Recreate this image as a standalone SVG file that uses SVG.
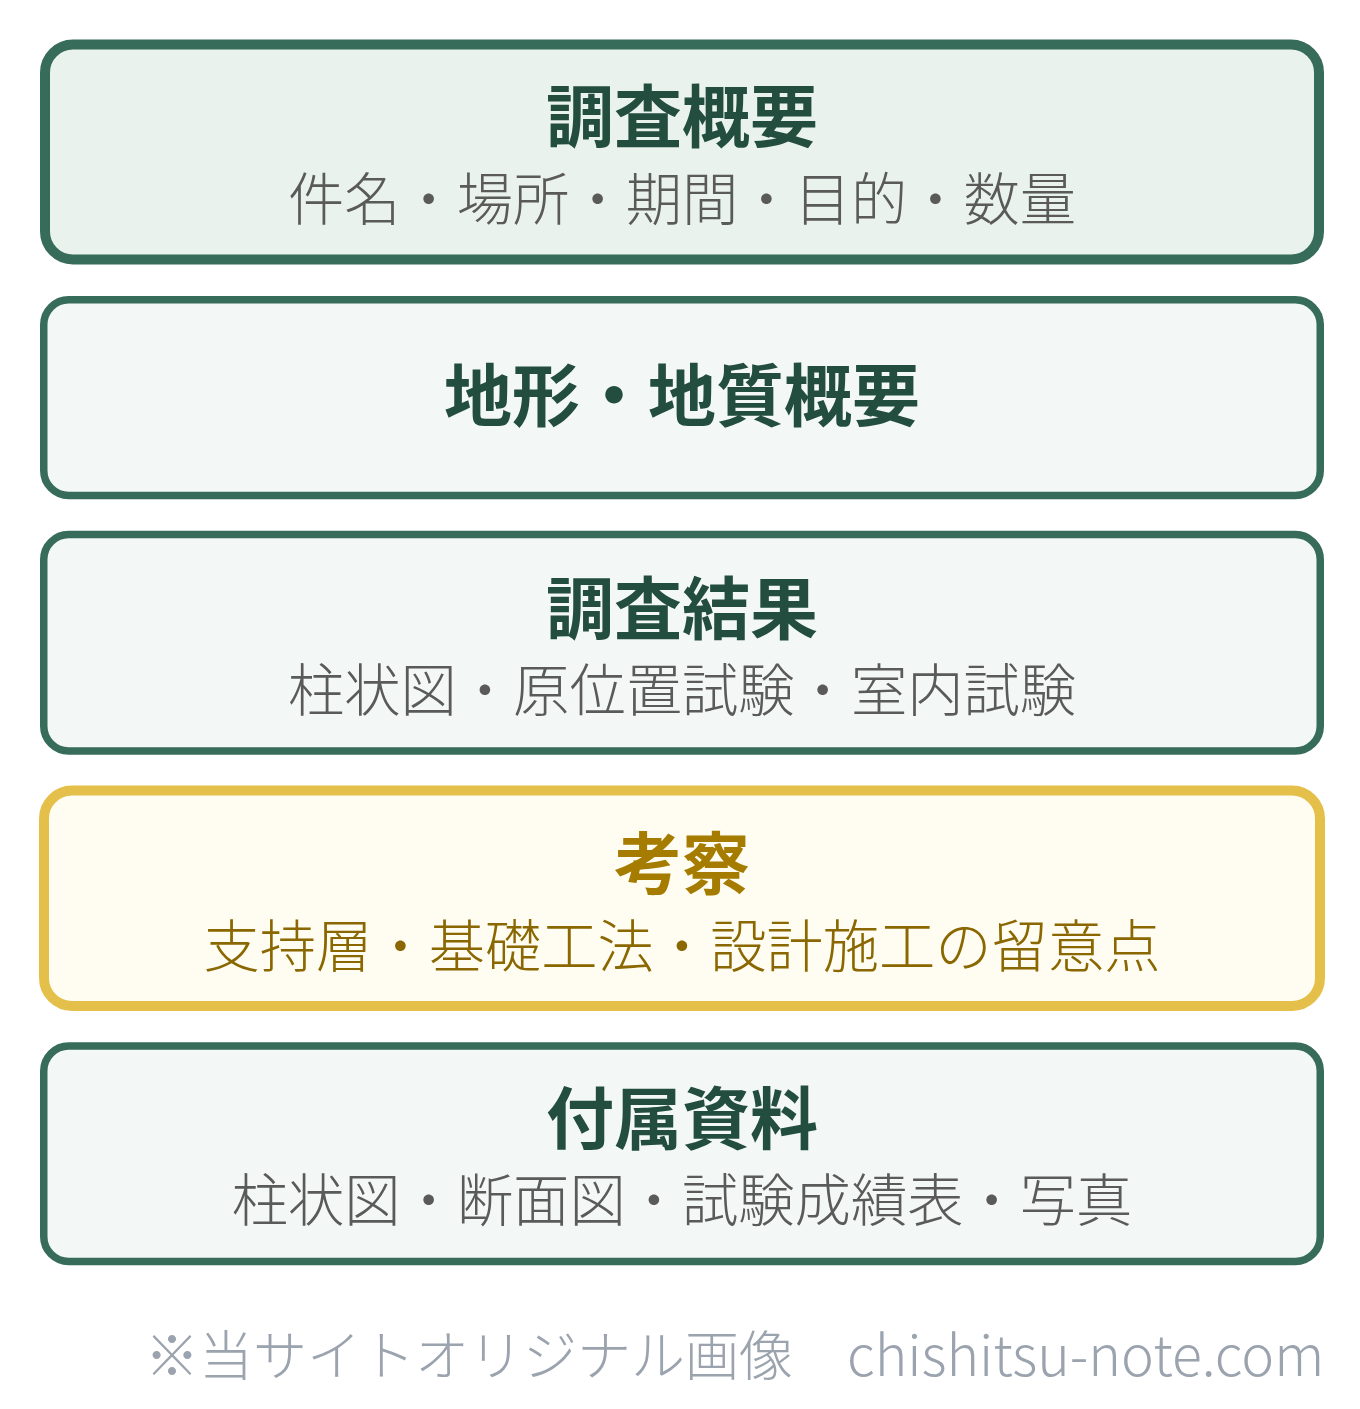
<svg xmlns="http://www.w3.org/2000/svg" width="1360" height="1409" viewBox="0 0 1360 1409">
<style>
.box{fill:#f3f8f6;stroke:#376b5a;stroke-width:7.5}
.box1{fill:#e9f2ed;stroke:#376b5a;stroke-width:10}
.boxy{fill:#fffdf1;stroke:#e4c04b;stroke-width:10}
.t{font-family:"Noto Sans CJK JP","Noto Sans CJK SC",sans-serif;font-weight:700;font-size:68px;fill:#234d3e;text-anchor:middle}
.s{font-family:"Noto Sans CJK JP","Noto Sans CJK SC",sans-serif;font-weight:300;font-size:56.3px;fill:#5a5a5a;text-anchor:middle}
.ty{fill:#a67c00}
.sy{fill:#8a6700}
.f{font-family:"Noto Sans CJK JP","Noto Sans CJK SC",sans-serif;font-weight:300;font-size:54px;fill:#9ba3ae}
</style>
<rect width="1360" height="1409" fill="#ffffff"/>
<g id="node-overview">
<rect class="box1" x="45" y="44.5" width="1274" height="215" rx="28"/>
<text class="t" x="682" y="142">調査概要</text>
<text class="s" x="682" y="220">件名・場所・期間・目的・数量</text>
</g>
<g id="node-geology">
<rect class="box" x="43.75" y="299.75" width="1276.5" height="195.75" rx="25"/>
<text class="t" x="682" y="421">地形・地質概要</text>
</g>
<g id="node-results">
<rect class="box" x="43.75" y="534.5" width="1276.5" height="216.5" rx="25"/>
<text class="t" x="682" y="634">調査結果</text>
<text class="s" x="682" y="711">柱状図・原位置試験・室内試験</text>
</g>
<g id="node-discussion">
<rect class="boxy" x="44" y="790.5" width="1276" height="215.5" rx="28"/>
<text class="t ty" x="682" y="889">考察</text>
<text class="s sy" x="682" y="967">支持層・基礎工法・設計施工の留意点</text>
</g>
<g id="node-appendix">
<rect class="box" x="43.75" y="1046" width="1276.5" height="215.5" rx="25"/>
<text class="t" x="682" y="1144">付属資料</text>
<text class="s" x="682" y="1221">柱状図・断面図・試験成績表・写真</text>
</g>
<g id="connectors"></g>
<text class="f" x="145" y="1376">※当サイトオリジナル画像　<tspan font-size="55.4">chishitsu-note.com</tspan></text>
</svg>
